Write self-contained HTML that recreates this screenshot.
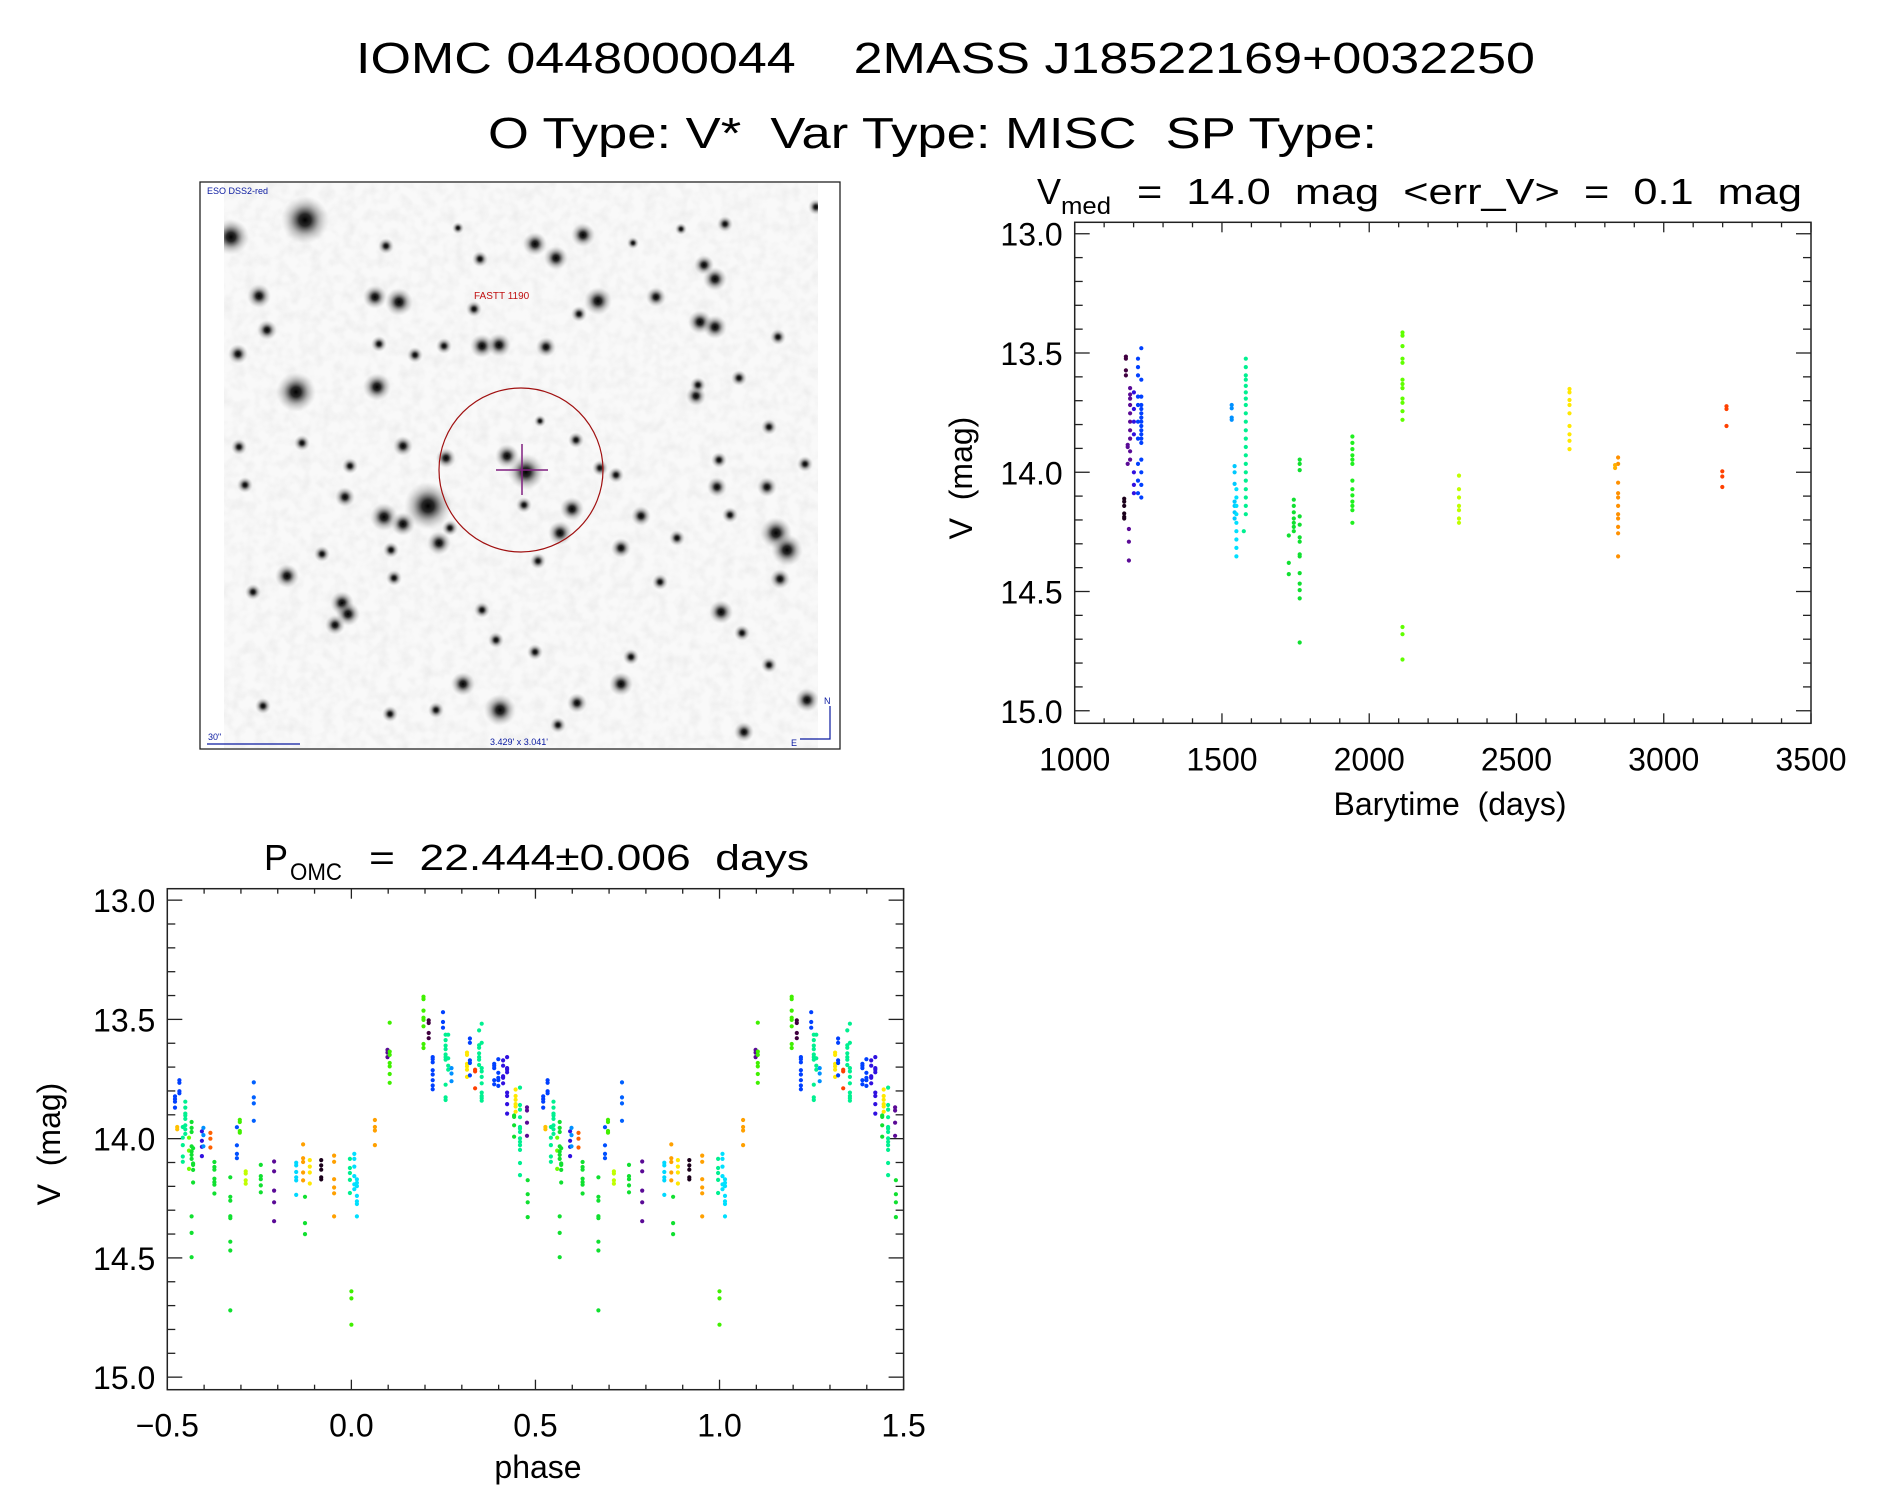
<!DOCTYPE html>
<html><head><meta charset="utf-8"><title>IOMC 0448000044</title>
<style>
html,body{margin:0;padding:0;background:#fff;}
svg{display:block;}
text{font-family:"Liberation Sans",sans-serif;fill:#000;white-space:pre;}
</style></head>
<body>
<svg id="root" width="1889" height="1494" viewBox="0 0 1889 1494" xmlns="http://www.w3.org/2000/svg" xml:space="preserve">
<defs>
  <radialGradient id="starg">
    <stop offset="0" stop-color="#000" stop-opacity="1"/>
    <stop offset="0.25" stop-color="#111" stop-opacity="0.9"/>
    <stop offset="0.6" stop-color="#555" stop-opacity="0.4"/>
    <stop offset="1" stop-color="#aaa" stop-opacity="0"/>
  </radialGradient>
  <filter id="grain" x="0" y="0" width="100%" height="100%">
    <feTurbulence type="fractalNoise" baseFrequency="0.09" numOctaves="2" seed="4"/>
    <feColorMatrix type="matrix" values="0 0 0 0 0.6  0 0 0 0 0.6  0 0 0 0 0.6  0 0 0 -1.6 1.0"/>
  </filter>
  <clipPath id="imgclip"><rect x="224" y="183" width="594" height="565"/></clipPath>
  <clipPath id="tsclip"><rect x="1075" y="222" width="736" height="501"/></clipPath>
  <clipPath id="phclip"><rect x="167" y="889" width="737" height="501"/></clipPath>
</defs>

<text x="356" y="73" font-size="44" textLength="1179" lengthAdjust="spacingAndGlyphs">IOMC 0448000044    2MASS J18522169+0032250</text>
<text x="488" y="148" font-size="44" textLength="889" lengthAdjust="spacingAndGlyphs">O Type: V*  Var Type: MISC  SP Type:</text>

<g id="skyimage">
  <rect x="224" y="183" width="594" height="565" fill="#f9f9f9"/>
  <rect x="224" y="183" width="594" height="565" filter="url(#grain)" opacity="0.3"/>
  <g id="stars" clip-path="url(#imgclip)"></g>
  <rect x="200" y="182" width="640" height="567" fill="none" stroke="#222" stroke-width="1.3"/>
  <ellipse cx="521" cy="470" rx="82" ry="82" fill="none" stroke="#a01010" stroke-width="1.2"/>
  <line x1="522" y1="444" x2="522" y2="495" stroke="#802080" stroke-width="1.5"/>
  <line x1="496" y1="470" x2="548" y2="470" stroke="#802080" stroke-width="1.5"/>
  <text x="207" y="194" font-size="9" style="fill:#0a1aa0">ESO DSS2-red</text>
  <text x="474" y="299" font-size="10" style="fill:#c01010">FASTT 1190</text>
  <text x="208" y="740" font-size="9" style="fill:#0a1aa0">30"</text>
  <line x1="207" y1="744" x2="300" y2="744" stroke="#0a1aa0" stroke-width="1.2"/>
  <text x="490" y="745" font-size="9" style="fill:#0a1aa0">3.429' x 3.041'</text>
  <polyline points="830,706 830,739 800,739" fill="none" stroke="#0a1aa0" stroke-width="1.2"/>
  <text x="824" y="704" font-size="9" style="fill:#0a1aa0">N</text>
  <text x="791" y="746" font-size="9" style="fill:#0a1aa0">E</text>
</g>

<g id="tsplot"></g>
<g id="phplot"></g>
</svg>

<script>
// ===== time-series data (Barytime days, V mag) =====
const tsGroupDay = [1168,1174,1180,1188,1201,1184,1215,1226,1533,1543,1549,1581,1574,1727,1744,1764,1943,2113,2305,2680,2845,2835,3199,3213];
const tsGroupColor = ['#1a001a','#400040','#5a0a96','#5a0a96','#3010e0','#5a0a96','#0040ff','#0040ff','#0090ff','#00c8ff','#00e0ff','#00f090','#00f090','#10e030','#10e030','#10e030','#20f020','#60ff00','#c0ff00','#ffe800','#ff9000','#ffb000','#ff4000','#ff4000'];
const tsGroupMags = [
 [14.111,14.123,14.141,14.173,14.187,14.194],
 [13.515,13.524,13.573,13.594],
 [13.885,13.894,13.965],
 [13.647,13.674,13.691,13.718,13.753,13.788,13.824,13.859,13.912,13.947],
 [13.665,13.735,13.788,13.841,14.0,14.053,14.088],
 [14.238,14.291,14.37],
 [13.524,13.559,13.594,13.683,13.718,13.788,13.859,13.965,14.035,14.088],
 [13.48,13.612,13.683,13.718,13.735,13.753,13.771,13.788,13.806,13.824,13.841,13.859,13.877,13.947,14.0,14.053,14.106],
 [13.718,13.732,13.771,13.78],
 [13.974,14.0,14.049,14.123,14.141,14.168,14.194],
 [14.071,14.106,14.141,14.176,14.212,14.247,14.282,14.317,14.353],
 [13.524,13.559,13.594,13.612,13.638,13.665,13.691,13.718,13.753,13.788,13.824,13.859,13.894,13.929,13.965,14.0,14.035,14.071,14.106,14.141,14.176],
 [14.247],
 [14.265,14.38,14.427],
 [14.115,14.141,14.168,14.194,14.212,14.229,14.247],
 [13.947,13.965,13.991,14.185,14.22,14.273,14.291,14.344,14.353,14.423,14.467,14.494,14.529,14.714],
 [13.85,13.877,13.903,13.929,13.947,13.965,14.035,14.071,14.097,14.123,14.141,14.159,14.212],
 [13.414,13.427,13.471,13.524,13.541,13.612,13.63,13.647,13.691,13.709,13.744,13.78,14.649,14.679,14.785],
 [14.014,14.071,14.106,14.141,14.159,14.194,14.212],
 [13.651,13.665,13.697,13.718,13.753,13.806,13.841,13.868,13.903],
 [13.938,13.965,14.044,14.088,14.106,14.141,14.176,14.194,14.229,14.256,14.353],
 [13.97,13.982],
 [13.996,14.018,14.062],
 [13.723,13.735,13.806]
];
const tsXTicks = [1000,1500,2000,2500,3000,3500];
const tsXTickLabels = ['1000','1500','2000','2500','3000','3500'];
const yTicks = [13.0,13.5,14.0,14.5,15.0];
const yTickLabels = ['13.0','13.5','14.0','14.5','15.0'];

// ===== phase data (phase in [-0.5,0.5), plotted twice) =====
const phGroupPhase = [-0.479,-0.467,-0.473,-0.458,-0.451,-0.441,-0.434,-0.430,-0.406,-0.402,-0.383,-0.372,-0.329,-0.311,-0.303,-0.287,-0.265,-0.246,-0.210,-0.150,-0.131,-0.126,-0.113,-0.082,-0.047,-0.004,0.008,0.015,0.0,0.064,0.098,0.104,0.196,0.210,0.221,0.249,0.256,0.263,0.272,0.314,0.322,0.336,0.347,0.354,0.388,0.399,0.412,0.423,0.442,0.446,0.458,0.477,0.479];
const phGroupColor = ['#0040ff','#0040ff','#ffc000','#00f090','#00f090','#70ff00','#10e030','#10e030','#3010e0','#0090ff','#ff6000','#10e030','#10e030','#0050ff','#40f000','#c0ff00','#0060ff','#10e030','#5a0a96','#00d8ff','#ffa000','#10e030','#ffe800','#1a001a','#ffa000','#00f090','#00e0ff','#00e0ff','#40f000','#ffa000','#5a0a96','#40f000','#40f000','#400040','#0040ff','#0040ff','#00f090','#00f090','#0090ff','#ffe800','#0040ff','#ff4000','#00f090','#00f090','#0040ff','#0040ff','#3010e0','#3010e0','#10e030','#ffe800','#00f090','#5a0a96','#10e030'];
const phGroupMags = [
 [13.823,13.834,13.845,13.870],
 [13.755,13.766,13.801,13.810],
 [13.951,13.961],
 [13.951,13.996,14.027,14.075,14.097],
 [13.845,13.870,13.895,13.903,13.917,13.944,13.961,13.98],
 [13.996,14.05,14.127],
 [13.93,13.955,13.972,14.032,14.054,14.068,14.085,14.326,14.395,14.497],
 [14.04,14.104,14.11,14.131,14.184],
 [13.969,14.009,14.034,14.073],
 [13.955,13.985,14.032],
 [13.976,14.0,14.037],
 [14.098,14.119,14.13,14.168,14.182,14.193,14.23],
 [14.162,14.244,14.26,14.325,14.333,14.432,14.469,14.72],
 [13.952,14.028,14.064,14.082],
 [13.921,13.93,13.968,13.975],
 [14.137,14.146,14.175,14.189],
 [13.764,13.827,13.852,13.925],
 [14.11,14.157,14.17,14.196,14.225],
 [14.096,14.137,14.218,14.267,14.346],
 [14.101,14.112,14.14,14.162,14.175,14.236],
 [14.024,14.082,14.098,14.142,14.175],
 [14.244,14.354,14.4],
 [14.09,14.117,14.142,14.188],
 [14.09,14.112,14.13,14.162,14.171],
 [14.071,14.097,14.17,14.205,14.229,14.326],
 [14.085,14.123,14.144,14.173,14.228],
 [14.064,14.085,14.117,14.157,14.192,14.212],
 [14.171,14.185,14.199,14.24,14.263,14.274,14.326],
 [14.64,14.67,14.78],
 [13.922,13.951,13.966,14.027],
 [13.628,13.639,13.658],
 [13.514,13.635,13.649,13.683,13.697,13.729,13.766],
 [13.405,13.415,13.463,13.493,13.502,13.529,13.603,13.62],
 [13.504,13.515,13.557,13.579],
 [13.658,13.667,13.68,13.713,13.731,13.755,13.777,13.793],
 [13.47,13.511,13.535],
 [13.564,13.587,13.61,13.625,13.647,13.658,13.669,13.774,13.827,13.838],
 [13.564,13.663,13.694,13.711],
 [13.704,13.727,13.759],
 [13.639,13.649,13.686,13.697,13.711,13.741],
 [13.58,13.598,13.672,13.683,13.735],
 [13.711,13.718,13.789],
 [13.546,13.608,13.619,13.642,13.658,13.669,13.691],
 [13.518,13.598,13.704,13.718,13.741,13.768,13.807,13.821,13.83,13.841],
 [13.686,13.694,13.704,13.755,13.772],
 [13.667,13.724,13.745,13.755,13.779],
 [13.672,13.694,13.738,13.745,13.768],
 [13.658,13.704,13.711,13.722,13.807,13.821,13.855,13.895],
 [13.903,13.909,13.944,13.992],
 [13.794,13.821,13.837,13.855,13.865,13.887],
 [13.786,13.859,13.878,13.910,13.951,13.958,13.972,13.999,14.013,14.027,14.047,14.102,14.153],
 [13.869,13.882,13.933,13.988],
 [14.174,14.233,14.267,14.329]
];
const phXTicks = [-0.5,0.0,0.5,1.0,1.5];
const phXTickLabels = ['\u22120.5','0.0','0.5','1.0','1.5'];

// ===== star field (decorative image) =====
const starList = [
[305,220,12],[231,237,9],[296,392,10],[428,506,12],[526,472,9],[377,387,7],[399,302,7],[375,297,6],[259,296,6],[267,330,5],[238,354,5],
[535,244,6],[583,235,6],[556,258,6],[598,301,7],[656,297,5],[715,279,6],[704,265,5],[700,322,6],[715,327,6],[482,346,6],[499,345,6],
[546,347,5],[474,309,4],[386,246,4],[480,259,4],[725,224,4],[816,207,4],[778,337,4],[696,396,5],[403,446,5],[446,458,5],[507,456,6],
[576,440,4],[600,468,4],[616,475,4],[345,497,5],[384,517,7],[403,524,6],[439,543,6],[450,528,4],[572,509,6],[560,533,6],[524,505,4],
[538,561,4],[641,516,5],[621,548,5],[717,487,5],[767,487,5],[730,515,4],[776,533,8],[787,550,8],[780,579,5],[677,538,4],[660,582,4],
[721,612,6],[742,633,4],[287,576,6],[253,592,4],[322,554,4],[391,550,4],[342,603,6],[348,614,6],[335,625,5],[394,578,4],[482,610,4],
[496,640,4],[463,684,6],[500,710,8],[621,684,6],[577,703,5],[558,725,4],[436,710,4],[390,714,4],[263,706,4],[744,732,5],[807,700,6],
[769,665,4],[535,652,4],[631,657,4],[239,447,4],[302,443,4],[245,485,4],[350,466,4],[379,344,4],[415,355,4],[444,346,4],[579,314,4],
[698,385,4],[739,378,4],[805,464,4],[769,427,4],[719,460,4],[540,421,3],[458,228,3],[633,243,3],[681,229,3]
];

const NS = 'http://www.w3.org/2000/svg';
function mk(tag, attrs, parent){
  const e = document.createElementNS(NS, tag);
  for (const k in attrs) e.setAttribute(k, attrs[k]);
  parent.appendChild(e);
  return e;
}

// stars
const starG = document.getElementById('stars');
starList.forEach(function(s){
  const c = mk('circle', {cx:s[0], cy:s[1], r:(s[2]*2.0).toFixed(1), fill:'url(#starg)'}, starG);
  
  
});

function drawAxes(g, box, xr, yr, xMajor, xMinorStep, xLabels, yMajor, yLabels, xTitle, xTitlePos, yTitlePos){
  const sx = v => box.x + (v - xr[0]) / (xr[1] - xr[0]) * box.w;
  const sy = v => box.y + (v - yr[0]) / (yr[1] - yr[0]) * box.h;
  const frame = mk('rect', {x:box.x, y:box.y, width:box.w, height:box.h, fill:'none', stroke:'#222', 'stroke-width':1.5}, g);
  
  
  const nx = Math.round((xr[1]-xr[0])/xMinorStep);
  for (let i=0;i<=nx;i++){
    const v = xr[0] + i*xMinorStep;
    const major = xMajor.some(m => Math.abs(m-v) < 1e-6);
    const L = major ? 10 : 5;
    const x = sx(v);
    const t1 = mk('line', {x1:x, y1:box.y+box.h, x2:x, y2:box.y+box.h-L, stroke:'#222', 'stroke-width':1.3}, g);
    
    
    const t2 = mk('line', {x1:x, y1:box.y, x2:x, y2:box.y+L, stroke:'#222', 'stroke-width':1.3}, g);
    
    
  }
  xMajor.forEach(function(v, i){
    const t = mk('text', {x:sx(v), y:box.y+box.h+47, 'font-size':32, 'text-anchor':'middle'}, g);
    t.textContent = xLabels[i];
    
    
  });
  for (let i=0;i<=20;i++){
    const v = 13 + i*0.1;
    const major = i % 5 === 0;
    const L = major ? 15 : 8;
    const y = sy(v);
    const a = mk('line', {x1:box.x, y1:y, x2:box.x+L, y2:y, stroke:'#222', 'stroke-width':1.3}, g);
    
    
    const b = mk('line', {x1:box.x+box.w, y1:y, x2:box.x+box.w-L, y2:y, stroke:'#222', 'stroke-width':1.3}, g);
    
    
  }
  yMajor.forEach(function(v, i){
    const t = mk('text', {x:box.x-12, y:sy(v)+12, 'font-size':32, 'text-anchor':'end'}, g);
    t.textContent = yLabels[i];
    
    
  });
  const xt = mk('text', {x:xTitlePos[0], y:xTitlePos[1], 'font-size':32, 'text-anchor':'middle'}, g);
  xt.textContent = xTitle;
  
  
  const yt = mk('text', {x:0, y:0, 'font-size':32, 'text-anchor':'middle', transform:'translate('+yTitlePos[0]+','+yTitlePos[1]+') rotate(-90)'}, g);
  yt.textContent = 'V  (mag)';
  
  
  return {sx:sx, sy:sy};
}

// ===== time-series plot =====
const tsG = document.getElementById('tsplot');
const tsBox = {x:1074.7, y:222.3, w:736.3, h:501};
const tsYR = [12.952, 15.0526];
const tsAx = drawAxes(tsG, tsBox, [1000,3500], tsYR, tsXTicks, 100, tsXTickLabels, yTicks, yTickLabels, 'Barytime  (days)', [1450,815], [972,478]);
{
  const t = mk('text', {x:1037, y:204, 'font-size':36}, tsG);
  t.textContent = 'V';
  
  
  const s = mk('text', {x:1061, y:214, 'font-size':24, textLength:50, lengthAdjust:'spacingAndGlyphs'}, tsG);
  s.textContent = 'med';
  
  
  const r = mk('text', {x:1137, y:204, 'font-size':36, textLength:665, lengthAdjust:'spacingAndGlyphs'}, tsG);
  r.textContent = '=  14.0  mag  <err_V>  =  0.1  mag';
  
  
}
const tsPts = mk('g', {'clip-path':'url(#tsclip)'}, tsG);


tsGroupDay.forEach(function(d, gi){
  tsGroupMags[gi].forEach(function(m){
    const c = mk('circle', {cx:tsAx.sx(d).toFixed(1), cy:tsAx.sy(m).toFixed(1), r:2.1, fill:tsGroupColor[gi]}, tsPts);
    
    
  });
});

// ===== phase plot =====
const phG = document.getElementById('phplot');
const phBox = {x:167.3, y:888.7, w:736.3, h:501};
const phYR = [12.952, 15.0526];
const phAx = drawAxes(phG, phBox, [-0.5,1.5], phYR, phXTicks, 0.1, phXTickLabels, yTicks, yTickLabels, 'phase', [538,1478], [60,1144]);
{
  const t = mk('text', {x:264, y:870, 'font-size':36}, phG);
  t.textContent = 'P';
  
  
  const s = mk('text', {x:290, y:880, 'font-size':24, textLength:52, lengthAdjust:'spacingAndGlyphs'}, phG);
  s.textContent = 'OMC';
  
  
  const r = mk('text', {x:369, y:870, 'font-size':36, textLength:440, lengthAdjust:'spacingAndGlyphs'}, phG);
  r.textContent = '=  22.444\u00b10.006  days';
  
  
}
const phPts = mk('g', {'clip-path':'url(#phclip)'}, phG);


[0, 1].forEach(function(cycle){
  phGroupPhase.forEach(function(p, gi){
    phGroupMags[gi].forEach(function(m){
      const c = mk('circle', {cx:phAx.sx(p + cycle).toFixed(1), cy:phAx.sy(m).toFixed(1), r:2.1, fill:phGroupColor[gi]}, phPts);
      
      
    });
  });
});
</script>
</body></html>
